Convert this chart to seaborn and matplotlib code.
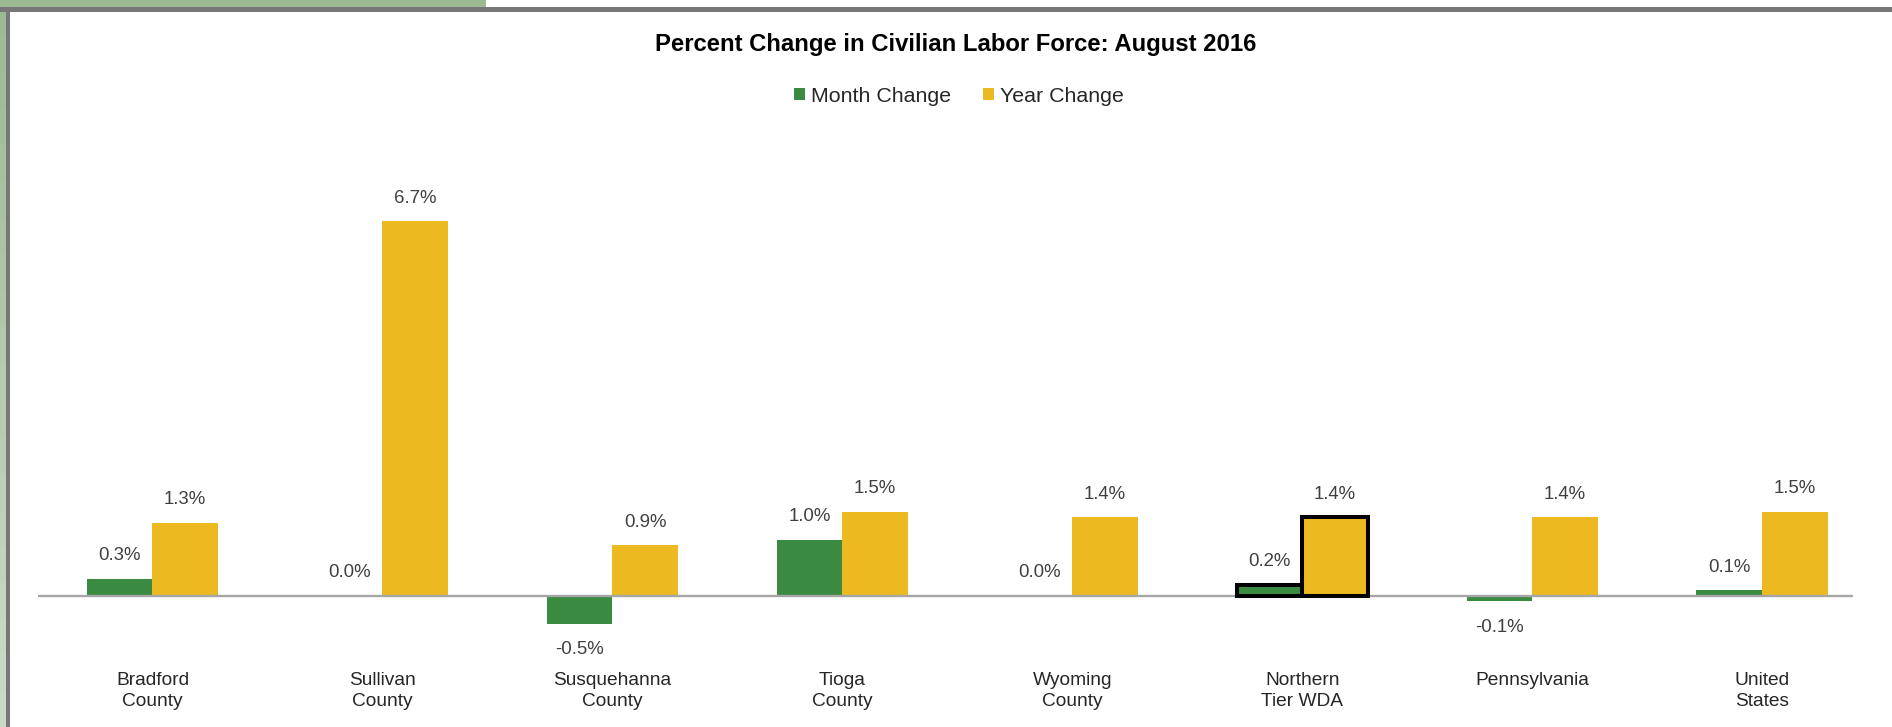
import matplotlib
matplotlib.use("Agg")
import matplotlib.pyplot as plt
import seaborn as sns
import pandas as pd
from matplotlib.patches import Rectangle

# ---------------- data ----------------
categories = ["Bradford\nCounty", "Sullivan\nCounty", "Susquehanna\nCounty", "Tioga\nCounty",
              "Wyoming\nCounty", "Northern\nTier WDA", "Pennsylvania", "United\nStates"]
month_change = [0.3, 0.0, -0.5, 1.0, 0.0, 0.2, -0.1, 0.1]
year_change = [1.3, 6.7, 0.9, 1.5, 1.4, 1.4, 1.4, 1.5]
series = ["Month Change", "Year Change"]
title = "Percent Change in Civilian Labor Force: August 2016"
highlight = "Northern\nTier WDA"

df = pd.DataFrame({
    "Area": categories * 2,
    "Series": [series[0]] * len(categories) + [series[1]] * len(categories),
    "Value": month_change + year_change,
})

sns.set_theme(style="white")
plt.rcParams["font.family"] = ["Liberation Sans", "DejaVu Sans"]

W, H = 1892, 727
fig = plt.figure(figsize=(W / 100, H / 100), dpi=100)
fig.patch.set_facecolor("white")


def px(x0, y0, x1, y1):
    return [x0 / W, 1 - y1 / H, (x1 - x0) / W, (y1 - y0) / H]


# frame decorations (green band + gray border)
fig.add_artist(Rectangle((0, 1 - 8 / H), 486 / W, 8 / H, transform=fig.transFigure,
                         facecolor="#9CB993", edgecolor="none"))
for i in range(20):
    y0 = 1 - (i + 1) / 20
    c0 = (0.61, 0.725, 0.576)
    c1 = (0.80, 0.85, 0.78)
    t = i / 19
    col = tuple(c0[k] + (c1[k] - c0[k]) * t for k in range(3))
    fig.add_artist(Rectangle((0, y0), 6 / W, 1 / 20, transform=fig.transFigure,
                             facecolor=col, edgecolor="none"))
fig.add_artist(Rectangle((0, 1 - 12 / H), 1, 4.5 / H, transform=fig.transFigure,
                         facecolor="#777777", edgecolor="none"))
fig.add_artist(Rectangle((6 / W, 0), 3.5 / W, 1 - 8 / H, transform=fig.transFigure,
                         facecolor="#777777", edgecolor="none"))

ax = fig.add_axes(px(37.5, 140, 1877, 650))
ax.set_facecolor("none")
palette = {"Month Change": "#3B8A41", "Year Change": "#ECB920"}
sns.barplot(data=df, x="Area", y="Value", hue="Series", palette=palette,
            width=0.57, saturation=1, ax=ax, legend=False, errorbar=None)

ppp = 55.9  # pixels per percent
ax.set_ylim(-(650 - 595.7) / ppp, (595.7 - 140) / ppp)
ax.set_xlim(-0.5, len(categories) - 0.5)
ax.axhline(0, xmin=0, xmax=(1852 - 37.5) / 1839.5, color="#A6A6A6", lw=1.7, zorder=1)

for s in ax.spines.values():
    s.set_visible(False)
ax.set_yticks([])
ax.set_xlabel("")
ax.set_ylabel("")
ax.tick_params(axis="x", length=0, pad=15.5, labelsize=13.8, colors="#262626")
for lbl in ax.get_xticklabels():
    lbl.set_linespacing(1.32)

values = month_change + year_change
hi = categories.index(highlight)
for i, p in enumerate(ax.patches[: 2 * len(categories)]):
    v = values[i]
    p.set_edgecolor("none")
    if i % len(categories) == hi:
        p.set_edgecolor("black")
        p.set_linewidth(2.9)
        p.set_zorder(3)
    xc = p.get_x() + p.get_width() / 2
    if v >= 0:
        ax.annotate(f"{v:.1f}%", (xc, v), xytext=(0, 10.5), textcoords="offset points",
                    ha="center", va="bottom", fontsize=13.4, color="#404040")
    else:
        ax.annotate(f"{v:.1f}%", (xc, v), xytext=(0, -12.5), textcoords="offset points",
                    ha="center", va="top", fontsize=13.4, color="#404040")

fig.text(956 / W, 1 - 44 / H, title, ha="center", va="center", fontsize=17.2,
         fontweight="bold", color="black")

handles = [Rectangle((0, 0), 1, 1, facecolor=palette[s], edgecolor="none") for s in series]
fig.legend(handles, series, loc="center", bbox_to_anchor=(959 / W, 1 - 96 / H), ncol=2,
           frameon=False, fontsize=15.4, handlelength=0.5, handleheight=0.5,
           handletextpad=0.3, columnspacing=1.5, labelcolor="#262626")

fig.savefig("out.png", dpi=100, facecolor="white")
